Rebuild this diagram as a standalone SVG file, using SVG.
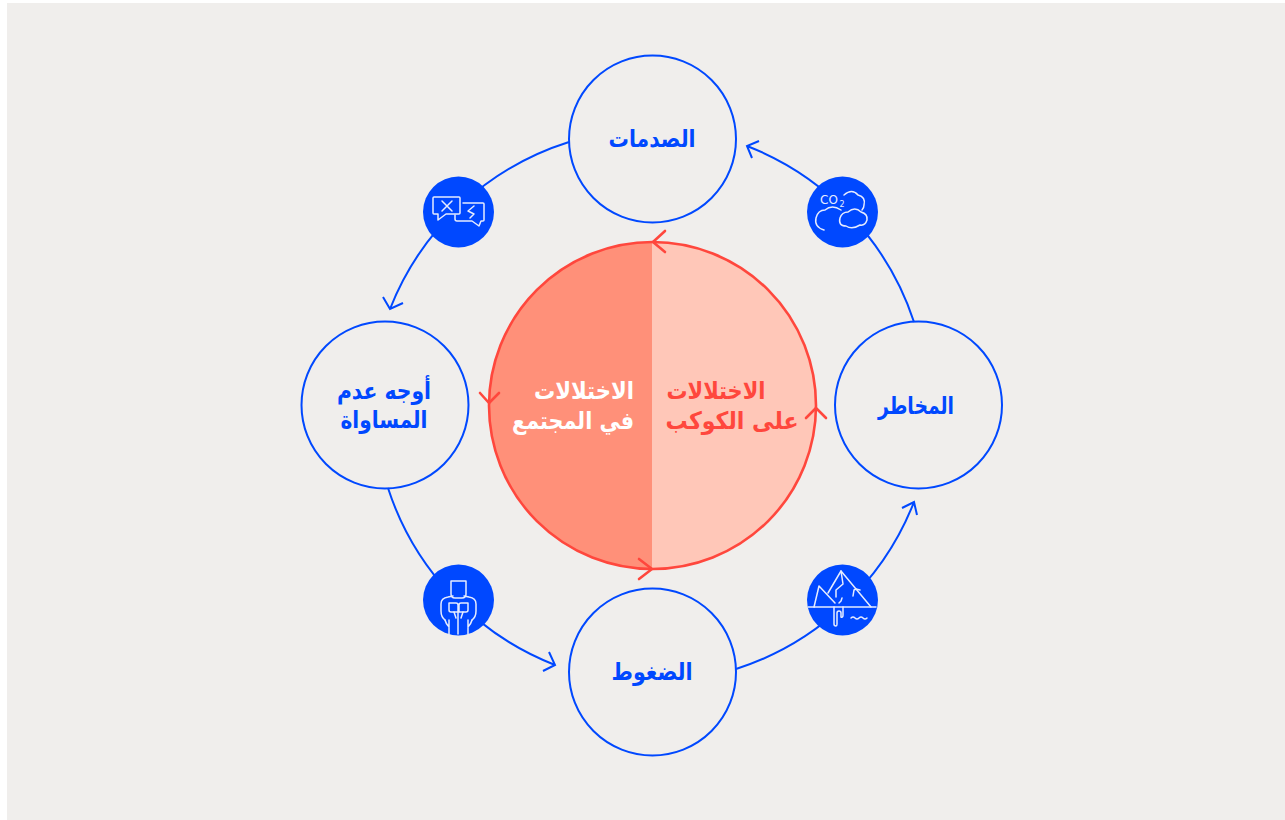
<svg xmlns="http://www.w3.org/2000/svg" width="1285" height="820" viewBox="0 0 1285 820">
<style>
.n{fill:none;stroke:#0048ff;stroke-width:2}
.ic{fill:#0048ff}
.g{fill:none;stroke:#e6ecff;stroke-width:1.5;stroke-linejoin:round;stroke-linecap:round}
.c{fill:none;stroke:#ff473d;stroke-width:2.600;stroke-linecap:round;stroke-linejoin:round}
text{font-family:"DejaVu Sans",sans-serif;font-weight:700;font-size:24px;text-anchor:middle;direction:rtl}
.b{fill:#0048ff}
.w{fill:#fff}
.r{fill:#ff473d}
.t{fill:#e6ecff;font-weight:400;direction:ltr}
</style>
<rect x="7" y="3" width="1278" height="817" fill="#f0eeec"/>
<g id="connectors">
<path class="n" d="M569 142A284 284 0 0 0 390 309M383 297L390 309L403 303"/>
<path class="n" d="M388 488A284 284 0 0 0 555 665M543 671L555 665L549 652"/>
<path class="n" d="M736 669A284 284 0 0 0 914 502M902 508L914 502L917 515"/>
<path class="n" d="M914 322A284 284 0 0 0 747 146M759 141L747 146L752 158"/>
</g>
<g id="center">
<path d="M652 242A163 163 0 0 0 652 569Z" fill="#ff9079"/>
<path d="M652 242A163 163 0 0 1 652 569Z" fill="#ffc7b8"/>
<circle class="c" cx="652.500" cy="405.500" r="163.500"/>
<path class="c" d="M665 231L653 242L665 252"/>
<path class="c" d="M480 393L489 403L499 393"/>
<path class="c" d="M639 559L652 569L639 579"/>
<path class="c" d="M806 418L816 408L826 418"/>
<text class="w" x="584" y="399" textLength="100" lengthAdjust="spacingAndGlyphs">الاختلالات</text>
<text class="w" x="573" y="429" textLength="122" lengthAdjust="spacingAndGlyphs">في المجتمع</text>
<text class="r" x="716" y="399" textLength="99" lengthAdjust="spacingAndGlyphs">الاختلالات</text>
<text class="r" x="732" y="429" textLength="133" lengthAdjust="spacingAndGlyphs">على الكوكب</text>
</g>
<g id="node-top"><circle class="n" cx="652.500" cy="139" r="83.500"/><text class="b" x="652" y="147" textLength="87" lengthAdjust="spacingAndGlyphs">الصدمات</text></g>
<g id="node-left"><circle class="n" cx="385" cy="405" r="83.500"/><text class="b" x="384" y="399" textLength="94" lengthAdjust="spacingAndGlyphs">أوجه عدم</text><text class="b" x="384" y="428" textLength="87" lengthAdjust="spacingAndGlyphs">المساواة</text></g>
<g id="node-right"><circle class="n" cx="918.500" cy="405" r="83.500"/><text class="b" x="916" y="414" textLength="76" lengthAdjust="spacingAndGlyphs">المخاطر</text></g>
<g id="node-bottom"><circle class="n" cx="652.500" cy="672" r="83.500"/><text class="b" x="652" y="680" textLength="81" lengthAdjust="spacingAndGlyphs">الضغوط</text></g>
<g id="icon-speech"><circle class="ic" cx="458.500" cy="212" r="35.500"/>
<path class="g" d="M434 197H459Q460 197 460 198V213Q460 214 459 214H446L438 220V214H434Q433 214 433 213V198Q433 197 434 197Z"/>
<path class="g" d="M442 201L452 211M452 201L442 211"/>
<path class="g" d="M463 203H483Q484 203 484 204V220Q484 221 483 221H481L479 226L472 221H457Q455 221 455 219V215"/>
<path class="g" d="M474 206L468 211L474 214L470 218"/></g>
<g id="icon-co2"><circle class="ic" cx="842.500" cy="212" r="35.500"/>
<text class="t" x="829" y="204" font-size="12" style="font-size:12px">CO</text>
<text class="t" x="842" y="207" style="font-size:8px">2</text>
<path class="g" d="M844 195Q852 188 858 195Q866 197 864 205Q864 208 862 210"/>
<path class="g" d="M824 230Q814 227 816 218Q818 210 825 210Q832 204 841 210"/>
<path class="g" d="M846 226Q838 226 840 218Q842 212 848 212Q855 206 861 212Q868 214 867 220Q865 226 860 225Q852 230 846 226Z"/></g>
<g id="icon-person"><circle class="ic" cx="458.500" cy="600" r="35.500"/>
<path class="g" d="M451 581H466V594Q466 598 462 598H455Q451 598 451 594Z"/>
<path class="g" d="M445 620Q441 617 441 611V604Q441 598 448 597L453 596M472 620Q476 617 476 611V604Q476 598 469 597L464 596"/>
<path class="g" d="M449 603H456Q458 603 458 605V612H451Q449 612 449 610ZM459 605Q459 603 461 603H468V610Q468 612 466 612H459Z"/>
<path class="g" d="M449 620V634M458 612V634M468 620V634M445 620Q446 624 449 627M472 620Q471 624 468 627M454 612L456 618M463 612L461 618"/></g>
<g id="icon-ice"><circle class="ic" cx="842.500" cy="600" r="35.500"/>
<path class="g" d="M808 607H876"/>
<path class="g" d="M814 607L819 586L835 603M828 593L841 571L871 607"/>
<path class="g" d="M841 571L843 584L836 590V597M842 598L841 601L839 603M854 590L856 589L860 590M854 590L853 596"/>
<path class="g" d="M834 607V624Q834 626 836 626Q837 626 837 624V613Q837 611 839 611Q841 611 841 613V617Q843 618 843 615V607"/>
<path class="g" d="M851 618Q853 616 855 618T859 618T863 618T867 618"/></g>
</svg>
